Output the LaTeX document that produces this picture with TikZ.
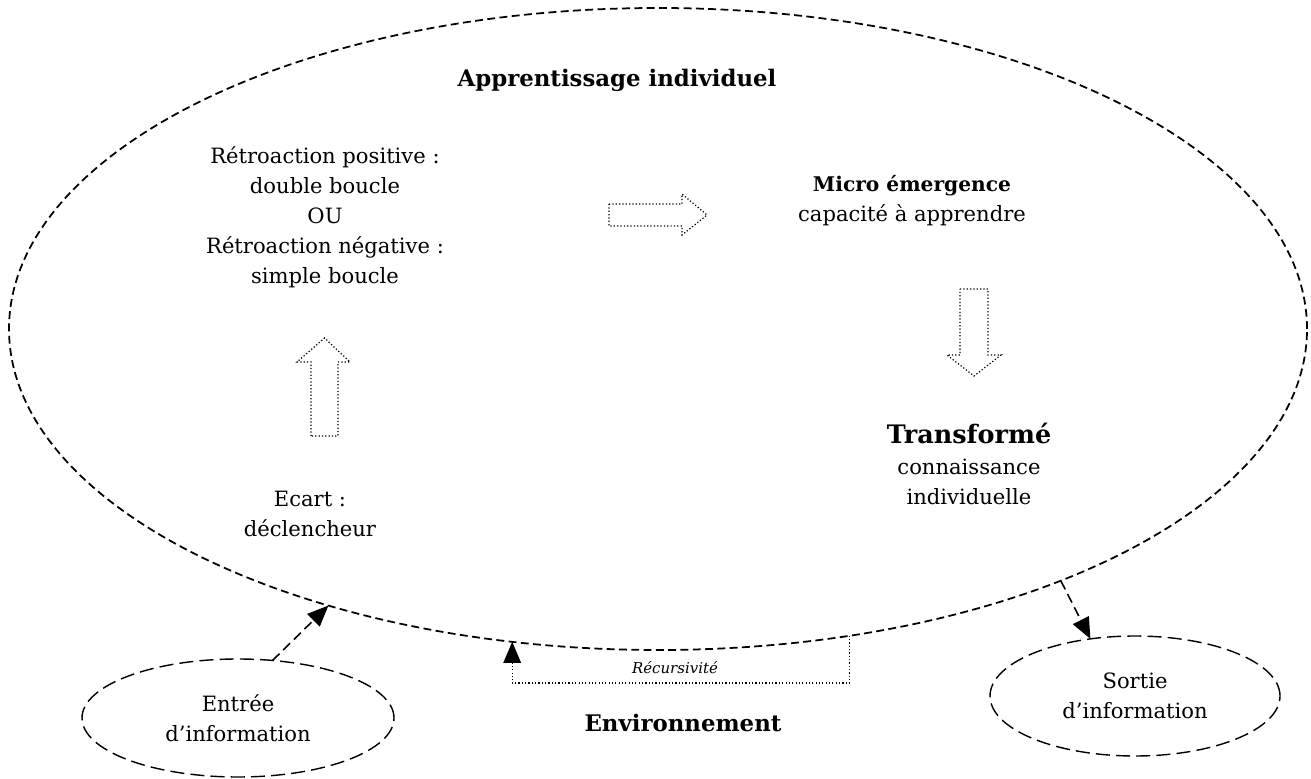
\documentclass[tikz,border=0pt]{standalone}
\usepackage{fontspec}
\setmainfont{DejaVu Serif}
\usetikzlibrary{shapes.geometric, arrows.meta}

\begin{document}
\fontsize{12}{17.1}\selectfont
\begin{tikzpicture}[
    > = {Triangle[length=12pt, width=10pt]}, % arrow head style
    txt/.style = {align=center, inner sep=0pt}, % plain labels
    bigloop/.style = {draw, ellipse, line width=1pt, dash pattern=on 4.5pt off 2.5pt, inner sep=0pt, outer sep=0pt},
    infobox/.style = {draw, ellipse, line width=0.8pt, dash pattern=on 8pt off 3.5pt, align=center, outer sep=0pt},
    flow/.style = {->, line width=0.9pt, dash pattern=on 5.5pt off 3pt},
    blockarrow/.style = {line width=0.7pt, dash pattern=on 0.7pt off 1.2pt},
    loopback/.style = {->, line width=0.7pt, dash pattern=on 0.7pt off 1.2pt}
]

\useasboundingbox (0, 0) rectangle (26.22, 15.56);

% Nodes
\node[bigloop, minimum width=25.96cm, minimum height=12.84cm] (app) at (13.16, 8.98) {};
\node[txt, font=\fontsize{13}{16}\selectfont\bfseries] (title) at (12.34, 13.96) {Apprentissage individuel};
\node[txt] (retro) at (6.5, 11.22) {Rétroaction positive :\\double boucle\\OU\\Rétroaction négative :\\simple boucle};
\node[txt] (micro) at (18.24, 11.55) {\textbf{\fontsize{11.5}{17.1}\selectfont Micro émergence}\\capacité à apprendre};
\node[txt] (transf) at (19.38, 6.28) {\textbf{\fontsize{14.5}{17.1}\selectfont Transformé}\\connaissance\\individuelle};
\node[txt] (ecart) at (6.2, 5.29) {Ecart :\\déclencheur};
\node[infobox, minimum width=6.24cm, minimum height=2.36cm] (entree) at (4.76, 1.2) {Entrée\\d’information};
\node[infobox, minimum width=5.8cm, minimum height=2.4cm] (sortie) at (22.7, 1.64) {Sortie\\d’information};
\node[txt, font=\fontsize{13}{16}\selectfont\bfseries] (env) at (13.66, 1.1) {Environnement};
\node[txt, font=\fontsize{8.5}{10}\selectfont\itshape] (recurs) at (13.5, 2.2) {Récursivité};
\coordinate (recb) at (0, 1.9);

% Block arrows
\draw[blockarrow] (12.18, 11.48) -- (13.64, 11.48) -- (13.64, 11.68) -- (14.14, 11.26) -- (13.64, 10.86) -- (13.64, 11.04) -- (12.18, 11.04) -- cycle;
\draw[blockarrow] (6.22, 6.84) -- (6.22, 8.32) -- (5.94, 8.32) -- (6.49, 8.8) -- (7.0, 8.32) -- (6.76, 8.32) -- (6.76, 6.84) -- cycle;
\draw[blockarrow] (19.2, 9.78) -- (19.76, 9.78) -- (19.76, 8.46) -- (20.02, 8.46) -- (19.48, 8.04) -- (18.94, 8.46) -- (19.2, 8.46) -- cycle;

% Edges
\draw[flow] (entree.59) -- (app.220);
\draw[flow] (app.328) -- (sortie.128);
\draw[loopback] (app.302) |- (recb -| app.245) -- (app.245);

\end{tikzpicture}
\end{document}
